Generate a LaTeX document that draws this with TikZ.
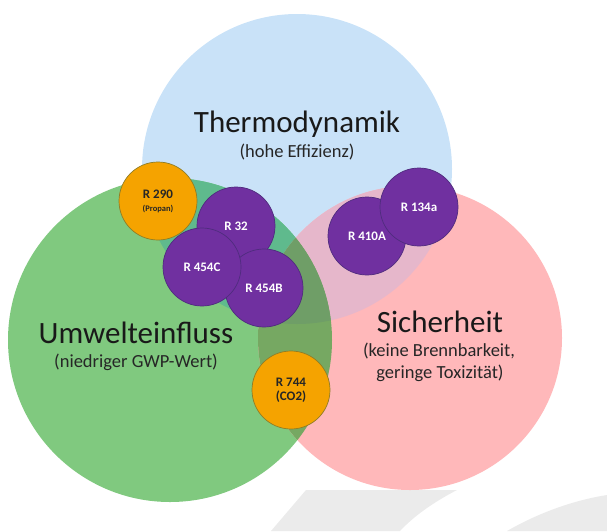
\documentclass[tikz,border=0pt]{standalone}
\usepackage{fontspec}
\setmainfont{Carlito}
\definecolor{thermoBlue}{HTML}{C9E2F8}
\definecolor{umweltGreen}{HTML}{80C97F}
\definecolor{sicherPink}{HTML}{FFB8BA}
\definecolor{greenBlue}{HTML}{5FBA8D}
\definecolor{pinkBlue}{HTML}{E6B7CB}
\definecolor{greenPink}{HTML}{76A862}
\definecolor{allThree}{HTML}{6F9E67}
\definecolor{refOrange}{HTML}{F5A300}
\definecolor{orangeEdge}{HTML}{8F7D27}
\definecolor{refPurple}{HTML}{7030A0}
\definecolor{purpleEdge}{HTML}{4F2C7E}
\definecolor{swooshGray}{HTML}{EBEBEB}

\begin{document}
\begin{tikzpicture}[x=1pt,y=-1pt,
        refrigerant/.style={circle,minimum size=78pt,inner sep=0pt,line width=0.7pt,
            font=\bfseries\fontsize{13}{14}\selectfont,align=center},
        purplering/.style={refrigerant,fill=refPurple,draw=purpleEdge,text=white},
        orangering/.style={refrigerant,fill=refOrange,draw=orangeEdge,text=black!85},
        bigtitle/.style={font=\fontsize{31}{36}\selectfont,text=black!90,anchor=base},
        subtitle/.style={font=\fontsize{18.5}{22}\selectfont,text=black!85,anchor=base}]
        \useasboundingbox (0,0) rectangle (607,531);
        % grey swooshes in the background
        \fill[swooshGray] (306,490) -- (457,490) .. controls (432,503) and (413,517) .. (400,531) -- (271,531) -- cycle;
        \fill[swooshGray] (507,531) .. controls (540,512) and (575,500) .. (607,495) -- (607,531) -- cycle;
        % the three big circles
        \fill[thermoBlue] (297,169) circle[radius=155pt];
        \fill[umweltGreen] (170,340) circle[radius=162pt];
        \fill[sicherPink] (410,338) circle[radius=152pt];
        \begin{scope}
            \clip (297,169) circle[radius=155pt];
            \fill[greenBlue] (170,340) circle[radius=162pt];
            \fill[pinkBlue] (410,338) circle[radius=152pt];
        \end{scope}
        \begin{scope}
            \clip (170,340) circle[radius=162pt];
            \fill[greenPink] (410,338) circle[radius=152pt];
            \clip (297,169) circle[radius=155pt];
            \fill[allThree] (410,338) circle[radius=152pt];
        \end{scope}
        % titles
        \node[bigtitle] (thermo) at (297,132) {Thermodynamik};
        \node[subtitle] (thermosub) at (297,157) {(hohe Effizienz)};
        \node[bigtitle] (umwelt) at (136,343) {Umwelteinfluss};
        \node[subtitle] (umweltsub) at (136,367) {(niedriger GWP-Wert)};
        \node[bigtitle] (sicher) at (440,332) {Sicherheit};
        \node[subtitle] (sichersub) at (439,356) {(keine Brennbarkeit,};
        \node[subtitle] (sichersubb) at (440,378) {geringe Toxizität)};
        % refrigerants
        \node[purplering] (r32) at (236,226) {R 32};
        \node[purplering] (r454b) at (264,288) {R 454B};
        \node[purplering] (r454c) at (202,267) {R 454C};
        \node[orangering] (r290) at (158,201) {R 290\\[-1pt]{\fontsize{8.5}{9}\selectfont(Propan)}};
        \node[purplering] (r410a) at (367,236) {R 410A};
        \node[purplering] (r134a) at (419,207) {R 134a};
        \node[orangering] (r744) at (291,390) {R 744\\(CO2)};
    \end{tikzpicture}
\end{document}
